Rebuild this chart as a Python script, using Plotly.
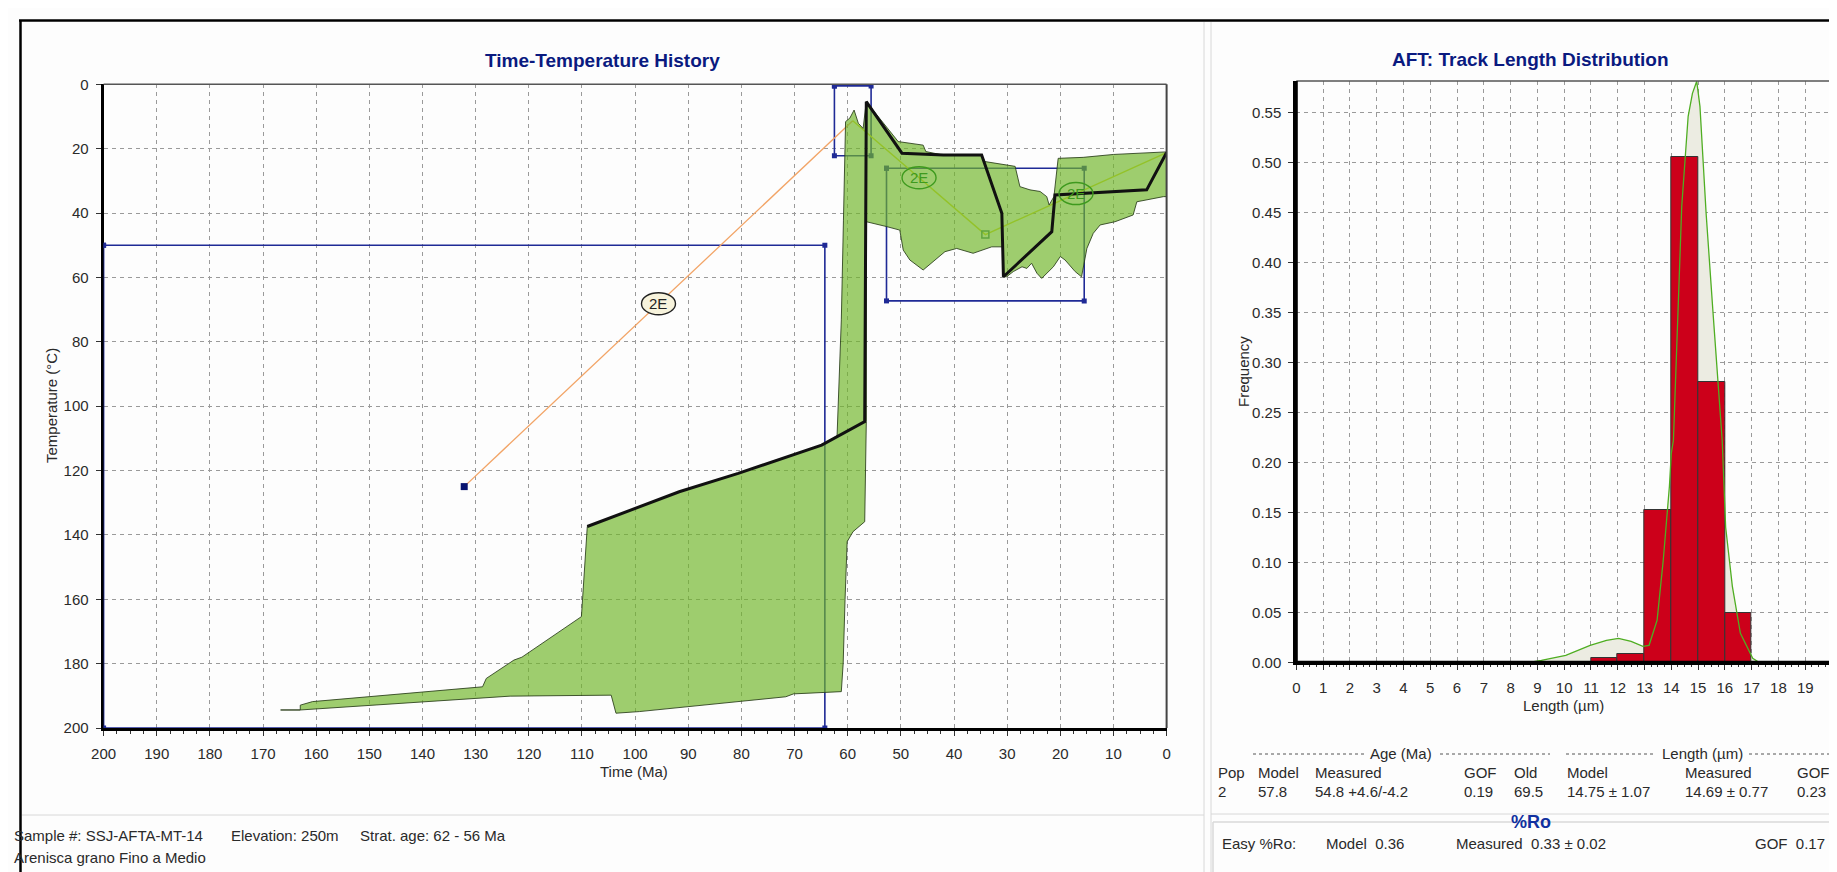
import plotly.graph_objects as go

OFF = 8  # the page places the figure 8 px from the window's top-left corner
W, H = 1837 - OFF, 872 - OFF
FONT = "Liberation Sans, Arial, sans-serif"
NAVY = "#1f2a96"
TXT = "#2a2a2a"


def px(x):
    return (x - OFF) / W


def py(y):
    return 1 - (y - OFF) / H


# ---------------- Time-temperature history data ----------------
time_ticks = list(range(0, 201, 10))
temp_ticks = list(range(0, 201, 20))

# constraint boxes: (oldest time, youngest time, low temp, high temp)
box_t_old = [200.0, 62.5, 52.7]
box_t_young = [64.3, 55.6, 15.5]
box_T_low = [50.0, 0.5, 26.1]
box_T_high = [200.0, 22.2, 67.3]
present_t = 0.0
present_T = 21.2

# good-fit envelope (time Ma, temperature C)
env_t = [166.7, 163.0, 163.0, 160.7, 128.7, 128.0, 122.8, 121.3, 110.1, 109.0, 106.6, 91.7, 80.6, 64.9,
         62.0, 61.2, 60.8, 60.4, 59.6, 58.8, 58.0, 57.1, 56.5, 50.5, 45.8, 45.3, 42.0, 34.8, 34.2, 28.5,
         27.6, 25.7, 23.8, 22.55, 22.1, 21.2, 20.4, 15.7, 10.0, 0.17, 0.0, 0.0, 0.6, 5.6, 6.3, 9.7, 12.5,
         13.8, 15.0, 16.0, 17.2, 19.1, 20.0, 21.3, 23.5, 24.4, 25.4, 26.3, 27.2, 28.85, 30.1, 30.7, 30.7,
         32.9, 36.4, 39.5, 41.7, 45.8, 48.3, 49.55, 50.2, 52.7, 56.1, 56.5, 56.5, 56.8, 59.0, 60.1, 60.5,
         60.85, 61.2, 70.2, 71.65, 99.2, 103.6, 104.5, 123.5, 160.7, 163.0, 166.7]
env_T = [194.4, 194.4, 192.9, 191.8, 187.2, 184.6, 178.9, 178.0, 165.4, 137.4, 135.9, 126.6, 120.9, 112.1,
         109.2, 73.2, 42.2, 11.6, 10.5, 8.0, 12.1, 13.7, 5.4, 17.8, 18.9, 20.9, 22.0, 22.0, 24.0, 25.5,
         31.8, 32.8, 33.3, 34.9, 37.5, 34.9, 23.0, 22.7, 21.8, 20.9, 21.0, 34.9, 34.9, 36.5, 40.6, 42.7, 43.7,
         46.3, 51.0, 59.8, 58.2, 54.6, 53.5, 56.7, 60.3, 58.7, 55.6, 57.2, 56.7, 58.2, 59.8, 59.8, 50.5,
         50.5, 52.5, 51.0, 52.0, 57.7, 54.6, 51.5, 45.3, 44.2, 42.7, 42.7, 104.8, 135.9, 139.0, 142.1, 160.2,
         179.9, 188.7, 189.4, 190.3, 194.9, 195.4, 189.8, 190.1, 194.0, 194.4, 194.4]

# best-fit path
best_t = [109.0, 106.6, 91.7, 80.6, 64.9, 56.8, 56.5, 49.8, 42.0, 34.8, 31.0, 30.7, 21.6, 21.0, 12.5, 3.75, 0.0]
best_T = [137.4, 135.9, 126.6, 120.9, 112.1, 104.8, 5.4, 21.4, 22.0, 22.0, 40.1, 59.8, 45.8, 34.4, 33.7, 32.8, 21.2]

# ---------------- Track length distribution data ----------------
len_ticks = list(range(0, 21))
freq_ticks = [0.00, 0.05, 0.10, 0.15, 0.20, 0.25, 0.30, 0.35, 0.40, 0.45, 0.50, 0.55]
bin_lo = [11, 12, 13, 14, 15, 16]
bin_freq = [0.004, 0.008, 0.152, 0.505, 0.280, 0.049]
model_len = [8.69, 9.15, 10.06, 10.97, 11.58, 12.03, 12.5, 12.94, 13.17, 13.47, 13.70, 13.93, 14.00, 14.08,
             14.39, 14.63, 14.79, 14.95, 15.07, 15.30, 15.56, 15.75, 15.90, 16.03, 16.28, 16.58, 17.04, 17.27]
model_freq = [0.0, 0.002, 0.007, 0.017, 0.022, 0.024, 0.021, 0.016, 0.017, 0.042, 0.102, 0.176, 0.209, 0.222,
              0.456, 0.546, 0.569, 0.581, 0.556, 0.449, 0.349, 0.279, 0.222, 0.135, 0.076, 0.029, 0.004, 0.0]

# ---------------- Text data ----------------
table_cols = ["Pop", "Model", "Measured", "GOF", "Old", "Model", "Measured", "GOF"]
table_vals = ["2", "57.8", "54.8 +4.6/-4.2", "0.19", "69.5", "14.75 ± 1.07", "14.69 ± 0.77", "0.23"]
ro_texts = ["Easy %Ro:", "Model  0.36", "Measured  0.33 ± 0.02", "GOF  0.17"]
sample_texts = ["Sample #: SSJ-AFTA-MT-14", "Elevation: 250m", "Strat. age: 62 - 56 Ma"]
lithology = "Arenisca grano Fino a Medio"

fig = go.Figure()

# constraint boxes
for to, ty, tl, th in zip(box_t_old, box_t_young, box_T_low, box_T_high):
    fig.add_trace(go.Scatter(x=[to, ty, ty, to, to], y=[tl, tl, th, th, tl], mode="lines+markers",
                             line=dict(color=NAVY, width=1.6),
                             marker=dict(symbol="square", size=5, color=NAVY),
                             hoverinfo="skip", showlegend=False, xaxis="x", yaxis="y"))

cx = [(a + b) / 2 for a, b in zip(box_t_old, box_t_young)]
cy = [(a + b) / 2 for a, b in zip(box_T_low, box_T_high)]

# orange and yellow connector paths
fig.add_trace(go.Scatter(x=[cx[0], cx[1]], y=[cy[0], cy[1]], mode="lines",
                         line=dict(color="#f2a466", width=1.3), hoverinfo="skip", showlegend=False))
fig.add_trace(go.Scatter(x=[cx[1], cx[2], present_t], y=[cy[1], cy[2], present_T], mode="lines",
                         line=dict(color="#dede2a", width=1.4), hoverinfo="skip", showlegend=False))
fig.add_trace(go.Scatter(x=[cx[0]], y=[cy[0]], mode="markers",
                         marker=dict(symbol="square", size=7, color="#0a1470"),
                         hoverinfo="skip", showlegend=False))
fig.add_trace(go.Scatter(x=[cx[2]], y=[cy[2]], mode="markers",
                         marker=dict(symbol="square-open", size=7, color="#3f7f6a", line=dict(width=1.5)),
                         hoverinfo="skip", showlegend=False))

# envelope
fig.add_trace(go.Scatter(x=env_t, y=env_T, mode="lines", fill="toself",
                         fillcolor="rgba(112,182,42,0.68)",
                         line=dict(color="rgba(40,60,25,0.85)", width=1),
                         hoverinfo="skip", showlegend=False))
# best fit
fig.add_trace(go.Scatter(x=best_t, y=best_T, mode="lines", line=dict(color="#111111", width=3),
                         hoverinfo="skip", showlegend=False))

# ---- right plot traces: model fill on base axes, bars + model line on overlay axes
fig.add_trace(go.Scatter(x=model_len, y=model_freq, mode="lines", fill="tozeroy",
                         fillcolor="#ecece2", line=dict(width=0, color="#ecece2"),
                         hoverinfo="skip", showlegend=False, xaxis="x2", yaxis="y2"))
fig.add_trace(go.Bar(x=[b + 0.5 for b in bin_lo], y=bin_freq, width=1,
                     marker=dict(color="#cc001a", line=dict(color="#333333", width=1)),
                     hoverinfo="skip", showlegend=False, xaxis="x3", yaxis="y3"))
fig.add_trace(go.Scatter(x=model_len, y=model_freq, mode="lines", line=dict(color="#4fae22", width=1.3),
                         hoverinfo="skip", showlegend=False, xaxis="x3", yaxis="y3"))

axis_common = dict(showline=True, linecolor="black", linewidth=3, mirror=False, layer="below traces",
                   showgrid=True, gridcolor="#9a9a9a", gridwidth=1, griddash="4px,4px",
                   ticks="outside", ticklen=5, tickcolor="#333", zeroline=False, automargin=False,
                   tickfont=dict(family=FONT, size=15, color=TXT), fixedrange=True)

fig.update_layout(
    width=W, height=H, autosize=False,
    margin=dict(l=0, r=0, t=0, b=0, pad=0, autoexpand=False),
    paper_bgcolor="#fdfdfd", plot_bgcolor="#fdfdfd",
    bargap=0, showlegend=False,
    xaxis=dict(domain=[px(103.6), px(1166.6)], range=[200, 0], tickvals=time_ticks,
               minor=dict(ticks="outside", dtick=2.5, ticklen=3, tickcolor="#333", showgrid=False),
               ticklabelstandoff=5, anchor="y", **axis_common),
    yaxis=dict(domain=[py(728), py(84.3)], range=[200, 0], tickvals=temp_ticks,
               ticklabelstandoff=4, anchor="x", **axis_common),
    xaxis2=dict(domain=[px(1296.3), 1.0], range=[0, 20 * (W + OFF - 1296.3) / (1832 - 1296.3)],
                tickvals=len_ticks,
                minor=dict(ticks="outside", dtick=0.25, ticklen=2, tickcolor="#333", showgrid=False),
                ticklabelstandoff=5, anchor="y2", **axis_common),
    yaxis2=dict(domain=[py(662.3), py(81)], range=[0, 0.5813], tickvals=freq_ticks, tickformat=".2f",
                ticklabelstandoff=4, anchor="x2", **axis_common),
    xaxis3=dict(overlaying="x2", range=[0, 20 * (W + OFF - 1296.3) / (1832 - 1296.3)], visible=False,
                anchor="y3", fixedrange=True),
    yaxis3=dict(overlaying="y2", range=[0, 0.5813], visible=False, anchor="x3", fixedrange=True),
)

shapes = []
# thin top/right frame edges of both plots
shapes.append(dict(type="line", xref="x domain", yref="y domain", x0=0, x1=1, y0=1, y1=1,
                   line=dict(color="#555", width=1.5), layer="above"))
shapes.append(dict(type="line", xref="x domain", yref="y domain", x0=1, x1=1, y0=0, y1=1,
                   line=dict(color="#444", width=2), layer="above"))
shapes.append(dict(type="line", xref="x2 domain", yref="y2 domain", x0=0, x1=1, y0=1, y1=1,
                   line=dict(color="#555", width=1.5), layer="above"))
# thick axis edges of the histogram drawn over the bars
shapes.append(dict(type="line", xref="x2 domain", yref="y2 domain", x0=0, x1=1, y0=0, y1=0,
                   line=dict(color="black", width=3), layer="above"))
shapes.append(dict(type="line", xref="x2 domain", yref="y2 domain", x0=0, x1=0, y0=0, y1=1,
                   line=dict(color="black", width=3), layer="above"))

# panel decorations
shapes += [
    dict(type="line", xref="paper", yref="paper", x0=px(19), x1=px(1845), y0=py(20.5), y1=py(20.5),
         line=dict(color="black", width=2.5)),
    dict(type="line", xref="paper", yref="paper", x0=px(20.5), x1=px(20.5), y0=py(20), y1=py(880),
         line=dict(color="black", width=2.5)),
    dict(type="line", xref="paper", yref="paper", x0=px(1204), x1=px(1204), y0=py(22), y1=py(880),
         line=dict(color="#d8d8d8", width=1)),
    dict(type="line", xref="paper", yref="paper", x0=px(1211), x1=px(1211), y0=py(22), y1=py(880),
         line=dict(color="#d8d8d8", width=1)),
    dict(type="line", xref="paper", yref="paper", x0=px(22), x1=px(1204), y0=py(815), y1=py(815),
         line=dict(color="#d8d8d8", width=1)),
    dict(type="line", xref="paper", yref="paper", x0=px(1211), x1=px(1845), y0=py(814), y1=py(814),
         line=dict(color="#d8d8d8", width=1)),
    dict(type="line", xref="paper", yref="paper", x0=px(1213), x1=px(1845), y0=py(822), y1=py(822),
         line=dict(color="#d8d8d8", width=1.5)),
    dict(type="line", xref="paper", yref="paper", x0=px(1213), x1=px(1213), y0=py(822), y1=py(880),
         line=dict(color="#d8d8d8", width=1.5)),
]
# dotted header rules
for x0, x1 in ((1253, 1364), (1440, 1550), (1566, 1656), (1749, 1840)):
    shapes.append(dict(type="line", xref="paper", yref="paper", x0=px(x0), x1=px(x1), y0=py(754), y1=py(754),
                       line=dict(color="#555", width=1, dash="dot")))

# "2E" label ellipses at segment midpoints
seg_pts = [(cx[0], cy[0], cx[1], cy[1]), (cx[1], cy[1], cx[2], cy[2]), (cx[2], cy[2], present_t, present_T)]
label_style = [("#f7f3dc", "#222222", "#222222"), ("rgba(0,0,0,0)", "#3e9a1e", "#3e9a1e"),
               ("rgba(0,0,0,0)", "#3e9a1e", "#3e9a1e")]
annotations = []
for (a, b, c, d), (fillc, linec, textc) in zip(seg_pts, label_style):
    mx, my = (a + c) / 2, (b + d) / 2
    shapes.append(dict(type="circle", xref="x", yref="y", xsizemode="pixel", ysizemode="pixel",
                       xanchor=mx, yanchor=my, x0=-17, x1=17, y0=-11, y1=11,
                       fillcolor=fillc, line=dict(color=linec, width=1.4), layer="above"))
    annotations.append(dict(x=mx, y=my, xref="x", yref="y", text="2E", showarrow=False,
                            font=dict(family=FONT, size=15, color=textc)))


def txt(x, y, s, size=15, color=TXT, anchor="left", bold=False, angle=0):
    if bold:
        s = "<b>" + s + "</b>"
    annotations.append(dict(x=px(x), y=py(y), xref="paper", yref="paper", text=s, showarrow=False,
                            xanchor=anchor, yanchor="middle", textangle=angle,
                            font=dict(family=FONT, size=size, color=color)))


txt(602, 61, "Time-Temperature History", size=19, color="#0a1a80", anchor="center", bold=True)
txt(1530, 59, "AFT: Track Length Distribution", size=19, color="#0a1a80", anchor="center", bold=True)
txt(51, 406, "Temperature (°C)", anchor="center", angle=-90)
txt(634, 771, "Time (Ma)", anchor="center")
txt(1243, 372, "Frequency", anchor="center", angle=-90)
txt(1563, 705, "Length (µm)", anchor="center")
txt(1401, 753, "Age (Ma)", anchor="center")
txt(1702, 753, "Length (µm)", anchor="center")
for xpos, head, val in zip([1216, 1256, 1313, 1462, 1512, 1565, 1683, 1795], table_cols, table_vals):
    txt(xpos, 772, head)
    txt(xpos, 791, val)
txt(1531, 822, "%Ro", size=18, color="#1030a0", anchor="center", bold=True)
for xpos, s in zip([1220, 1324, 1454], ro_texts[:3]):
    txt(xpos, 843, s)
txt(1827, 843, ro_texts[3], anchor="right")
for xpos, s in zip([12, 229, 358], sample_texts):
    txt(xpos, 835, s)
txt(12, 857, lithology)

fig.update_layout(shapes=shapes, annotations=annotations)
fig.write_html("out.html")
